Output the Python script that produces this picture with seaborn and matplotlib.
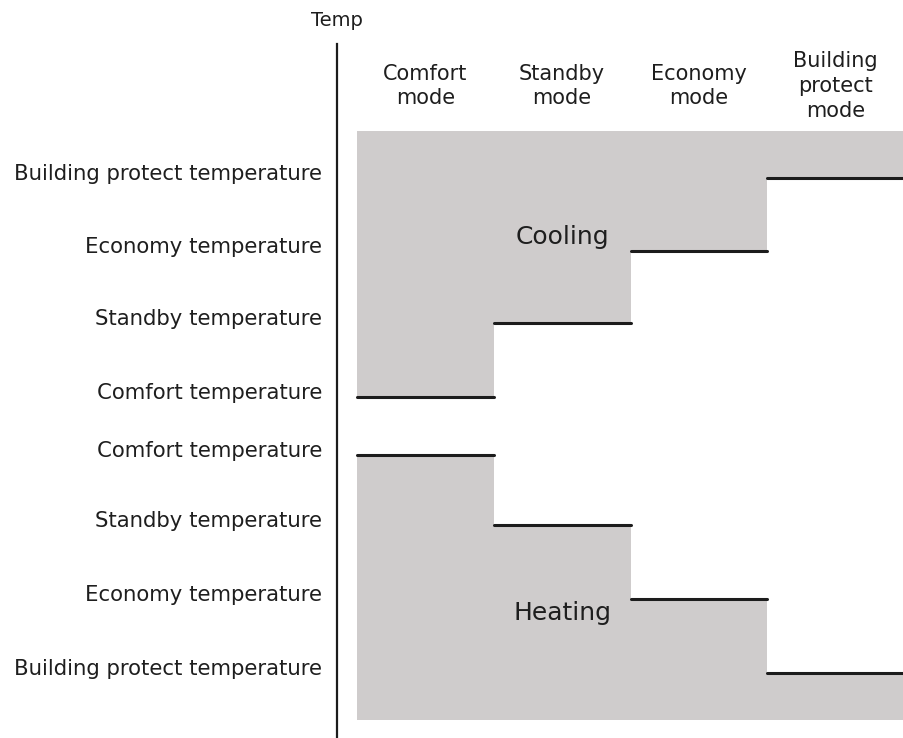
import matplotlib
matplotlib.use("Agg")
import matplotlib.pyplot as plt
import matplotlib.transforms as mtransforms
import seaborn as sns
import pandas as pd
import numpy as np

sns.set_theme(style="white")
plt.rcParams['font.family'] = ['DejaVu Sans']

# ---- data ----
modes = ["Comfort\nmode", "Standby\nmode", "Economy\nmode", "Building\nprotect\nmode"]
cooling_labels = ["Comfort temperature", "Standby temperature", "Economy temperature",
                  "Building protect temperature"]
heating_labels = ["Comfort temperature", "Standby temperature", "Economy temperature",
                  "Building protect temperature"]
cooling_levels = [4.67, 5.68, 6.67, 7.67]
heating_levels = [3.88, 2.92, 1.90, 0.89]
band_top = 8.32
band_bottom = 0.25

gray = "#cfcccc"
linec = "#1c1c1c"
textc = "#1e1e1e"

fig = plt.figure(figsize=(9.04, 7.38), dpi=100)
ax = fig.add_axes([337 / 904, 0.0, 567 / 904, 694 / 738])
x_left = -20 / 136.75
ax.set_xlim(x_left, 4)
ax.set_ylim(0, 694 / 73)

x_edges = np.arange(len(modes) + 1)
cool_step = cooling_levels + [cooling_levels[-1]]
heat_step = heating_levels + [heating_levels[-1]]
ax.fill_between(x_edges, cool_step, band_top, step="post", color=gray, lw=0)
ax.fill_between(x_edges, band_bottom, heat_step, step="post", color=gray, lw=0)

rows = []
for i in range(len(modes)):
    for xx in (i, i + 1):
        rows.append({"x": xx, "y": cooling_levels[i], "seg": f"c{i}"})
        rows.append({"x": xx, "y": heating_levels[i], "seg": f"h{i}"})
df = pd.DataFrame(rows)
sns.lineplot(data=df, x="x", y="y", units="seg", estimator=None, color=linec,
             lw=2.2, ax=ax, legend=False)
ax.set_xlim(x_left, 4)
ax.set_xlabel("")
ax.set_ylabel("")

# axes styling
for s in ["top", "right", "bottom"]:
    ax.spines[s].set_visible(False)
ax.spines["left"].set_color(linec)
ax.spines["left"].set_linewidth(1.6)
ax.set_xticks([])
ax.set_yticks(cooling_levels + heating_levels)
ax.set_yticklabels(cooling_labels + heating_labels, fontsize=15.3, color=textc)
ax.tick_params(axis="y", length=0, pad=10.8)
off = mtransforms.ScaledTranslation(0, 6 / 100, fig.dpi_scale_trans)
for lab in ax.get_yticklabels():
    lab.set_transform(lab.get_transform() + off)

# headers
for i, m in enumerate(modes):
    ax.text(i + 0.5, (738 - 86) / 73, m, ha="center", va="center",
            fontsize=15, color=textc, linespacing=1.3)
ax.text(x_left, (738 - 20) / 73, "Temp", ha="center", va="center", fontsize=14, color=textc)

ax.text(1.5, (738 - 237) / 73, "Cooling", ha="center", va="center", fontsize=18, color=textc)
ax.text(1.5, (738 - 613) / 73, "Heating", ha="center", va="center", fontsize=18, color=textc)

fig.savefig("out.png", dpi=100)
